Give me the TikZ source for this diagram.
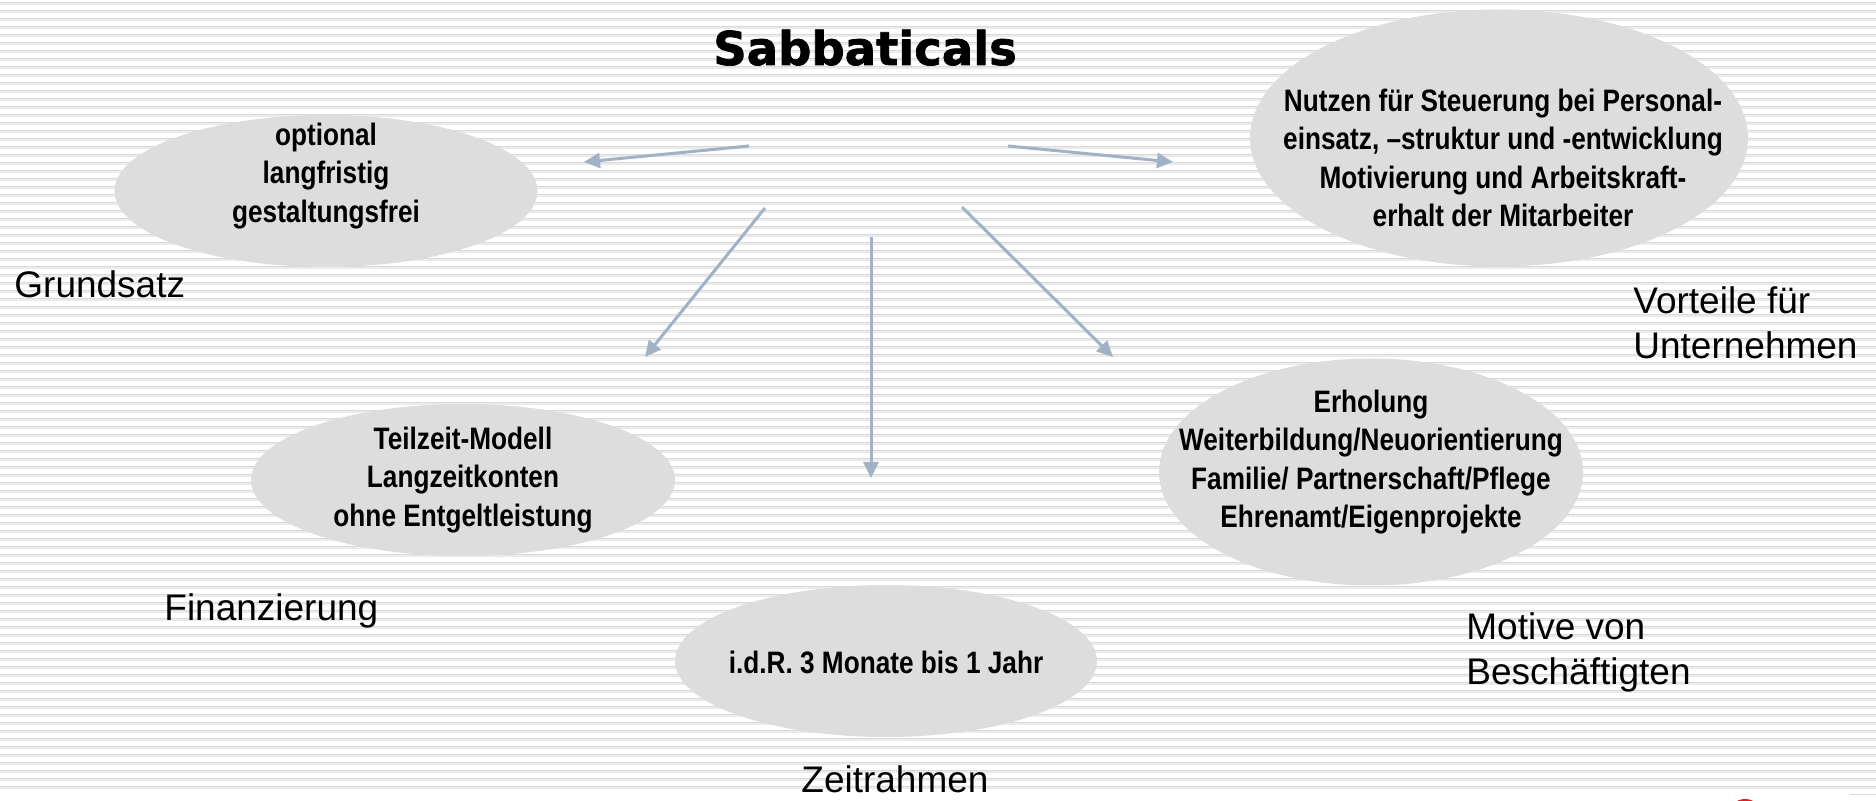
\documentclass[tikz,border=0pt]{standalone}
\usepackage{fontspec}
\setmainfont{Liberation Sans}
\newfontfamily\titlefont[FakeBold=1.5]{DejaVu Sans Bold}
\newfontfamily\bubblefont[FakeStretch=0.845]{Liberation Sans Bold}
\usetikzlibrary{arrows.meta,shapes.geometric}
\definecolor{stripedark}{RGB}{218,218,218}
\definecolor{stripelight}{RGB}{235,235,235}
\definecolor{bubblegray}{RGB}{221,221,221}
\definecolor{arrowblue}{RGB}{160,178,196}
\definecolor{logored}{RGB}{232,28,28}
\begin{document}
\begin{tikzpicture}[x=0.5pt,y=-0.5pt,line join=round,>={Triangle[length=8pt,width=7.5pt]}]
\tikzset{bubble/.style={ellipse,fill=bubblegray,inner sep=0pt},
  bubtext/.style={font=\bubblefont\fontsize{15.5}{19.25}\selectfont,align=center,inner sep=0pt},
  topic/.style={font=\fontsize{18.5}{22.5}\selectfont,align=left,inner sep=0pt},
  link/.style={->,draw=arrowblue,line width=1.5pt}}
\useasboundingbox (0,0) rectangle (1876,801);
% striped background
\fill[white] (0,0) rectangle (1876,801);
\foreach \k in {0,...,98}{
  \fill[stripedark] (0,8*\k+2) rectangle (1876,8*\k+3.3);
  \fill[stripelight] (0,8*\k+3.3) rectangle (1876,8*\k+4.7);
}
\fill[stripedark] (1850,794) rectangle (1876,795.4);
\fill[logored] (1745,816) circle (17);

\node[font=\titlefont\fontsize{23.25}{28}\selectfont,anchor=base,inner sep=0pt] (title) at (865,65) {Sabbaticals};

% bubbles
\node[bubble,minimum width=211.5pt,minimum height=76pt] (grund) at (326,191) {};
\node[bubble,minimum width=249pt,minimum height=128.5pt] (vort) at (1499,138) {};
\node[bubble,minimum width=212pt,minimum height=76pt] (fin) at (463,480) {};
\node[bubble,minimum width=212pt,minimum height=113.5pt] (mot) at (1371,472) {};
\node[bubble,minimum width=211pt,minimum height=76pt] (zeit) at (886,661) {};

\node[bubtext] (grundtxt) at (326,176) {optional\\langfristig\\gestaltungsfrei};
\node[bubtext] (vorttxt) at (1503,158) {Nutzen für Steuerung bei Personal-\\einsatz, –struktur und -entwicklung\\Motivierung und Arbeitskraft-\\erhalt der Mitarbeiter};
\node[bubtext] (fintxt) at (463,480) {Teilzeit-Modell\\Langzeitkonten\\ohne Entgeltleistung};
\node[bubtext] (mottxt) at (1371,462) {Erholung\\Weiterbildung/Neuorientierung\\Familie/ Partnerschaft/Pflege\\Ehrenamt/Eigenprojekte};
\node[bubtext] (zeittxt) at (886,662) {i.d.R. 3 Monate bis 1 Jahr};

% captions
\node[topic,anchor=base west] (grundcap) at (14,298) {Grundsatz};
\node[topic,anchor=base west] (fincap) at (164,621) {Finanzierung};
\node[topic,anchor=base west] (zeitcap) at (801,793) {Zeitrahmen};
\node[topic,anchor=north west] (vortcap) at (1633,286) {Vorteile für\\Unternehmen};
\node[topic,anchor=north west] (motcap) at (1466,612) {Motive von\\Beschäftigten};

% arrows
\coordinate (l1) at (749,146); \coordinate (l2) at (584,162);
\coordinate (r1) at (1008,146); \coordinate (r2) at (1173,162);
\coordinate (dl1) at (765,208); \coordinate (dl2) at (645,357);
\coordinate (d1) at (871,237); \coordinate (d2) at (871,478);
\coordinate (dr1) at (962,207); \coordinate (dr2) at (1113,357);
\draw[link] (l1)--(l2);
\draw[link] (r1)--(r2);
\draw[link] (dl1)--(dl2);
\draw[link] (d1)--(d2);
\draw[link] (dr1)--(dr2);
\end{tikzpicture}
\end{document}
